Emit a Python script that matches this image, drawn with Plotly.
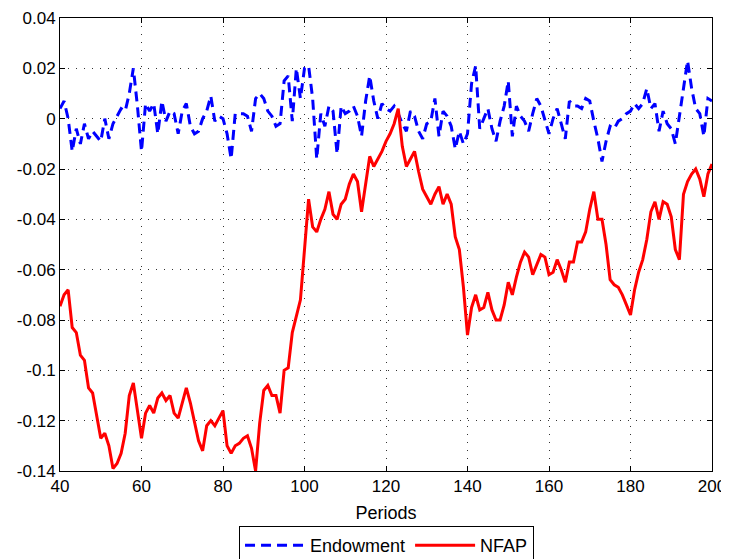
import plotly.graph_objects as go

periods = list(range(40, 201))

nfap = [
    -0.0745, -0.070, -0.068, -0.083, -0.085, -0.094, -0.096, -0.107, -0.109, -0.118,  # 40-49
    -0.127, -0.125, -0.130, -0.139, -0.137, -0.133, -0.125, -0.110, -0.105, -0.116,  # 50-59
    -0.127, -0.117, -0.114, -0.117, -0.111, -0.109, -0.112, -0.110, -0.117, -0.119,  # 60-69
    -0.113, -0.107, -0.113, -0.120, -0.128, -0.132, -0.122, -0.120, -0.122, -0.119,  # 70-79
    -0.116, -0.130, -0.133, -0.130, -0.129, -0.127, -0.126, -0.131, -0.140, -0.121,  # 80-89
    -0.108, -0.106, -0.110, -0.110, -0.117, -0.100, -0.099, -0.085, -0.078, -0.072,  # 90-99
    -0.052, -0.032, -0.043, -0.045, -0.040, -0.036, -0.029, -0.038, -0.040, -0.034,  # 100-109
    -0.032, -0.026, -0.022, -0.025, -0.037, -0.025, -0.015, -0.019, -0.016, -0.013,  # 110-119
    -0.009, -0.006, -0.002, 0.004, -0.011, -0.019, -0.016, -0.013, -0.021, -0.028,   # 120-129
    -0.031, -0.034, -0.030, -0.027, -0.034, -0.030, -0.034, -0.047, -0.052, -0.067,  # 130-139
    -0.086, -0.075, -0.070, -0.076, -0.075, -0.069, -0.076, -0.080, -0.080, -0.074,  # 140-149
    -0.065, -0.070, -0.063, -0.057, -0.053, -0.055, -0.062, -0.058, -0.054, -0.055,  # 150-159
    -0.062, -0.061, -0.056, -0.060, -0.065, -0.057, -0.057, -0.049, -0.049, -0.045,  # 160-169
    -0.036, -0.029, -0.040, -0.040, -0.050, -0.064, -0.066, -0.067, -0.070, -0.074,  # 170-179
    -0.078, -0.068, -0.061, -0.056, -0.048, -0.037, -0.033, -0.040, -0.033, -0.034,  # 180-189
    -0.039, -0.052, -0.056, -0.030, -0.025, -0.022, -0.020, -0.024, -0.031, -0.022,  # 190-199
    -0.018,                                                                          # 200
]

endowment = [
    0.004, 0.007, 0.000, -0.013, -0.004, -0.010, -0.002, -0.008, -0.005, -0.007,   # 40-49
    -0.009, 0.000, -0.008, -0.002, 0.001, 0.004, 0.003, 0.010, 0.020, 0.005,       # 50-59
    -0.013, 0.006, 0.003, 0.006, -0.006, 0.007, -0.001, 0.003, 0.002, -0.006,      # 60-69
    0.003, 0.006, -0.003, -0.006, -0.005, 0.000, 0.003, 0.009, -0.001, 0.001,      # 70-79
    0.000, -0.006, -0.016, 0.002, 0.002, 0.002, 0.001, -0.005, 0.008, 0.010,       # 80-89
    0.008, 0.003, 0.001, -0.003, -0.002, 0.015, 0.017, -0.001, 0.020, 0.008,       # 90-99
    0.020, 0.021, 0.008, -0.016, 0.002, -0.003, 0.005, 0.003, -0.014, 0.005,       # 100-109
    0.002, 0.003, 0.005, 0.001, -0.007, 0.007, 0.017, 0.007, 0.000, 0.006,         # 110-119
    0.004, 0.003, 0.005, 0.002, -0.002, -0.005, 0.003, 0.001, -0.005, -0.008,      # 120-129
    -0.002, -0.001, 0.008, -0.007, 0.003, 0.001, -0.003, -0.012, -0.005, -0.010,   # 130-139
    -0.006, 0.014, 0.021, -0.004, 0.000, 0.004, -0.004, -0.009, -0.001, 0.005,     # 140-149
    0.015, -0.007, 0.005, 0.001, -0.001, -0.005, 0.002, 0.008, 0.005, -0.001,      # 150-159
    -0.006, 0.000, 0.004, -0.002, -0.008, 0.007, 0.005, 0.005, 0.004, 0.008,       # 160-169
    0.007, -0.001, -0.008, -0.017, -0.009, -0.003, -0.004, -0.001, 0.000, 0.002,   # 170-179
    0.003, 0.006, 0.004, 0.006, 0.012, 0.004, 0.006, -0.005, 0.003, -0.002,        # 180-189
    -0.004, -0.010, 0.002, 0.012, 0.023, 0.012, 0.004, 0.002, -0.007, 0.008,       # 190-199
    0.007,                                                                         # 200
]

x_ticks = [40, 60, 80, 100, 120, 140, 160, 180, 200]
x_tick_labels = ["40", "60", "80", "100", "120", "140", "160", "180", "200"]
y_ticks = [0.04, 0.02, 0, -0.02, -0.04, -0.06, -0.08, -0.1, -0.12, -0.14]
y_tick_labels = ["0.04", "0.02", "0", "-0.02", "-0.04", "-0.06", "-0.08", "-0.1", "-0.12", "-0.14"]

fig = go.Figure()
fig.add_trace(go.Scatter(
    x=periods, y=endowment, mode="lines", name="Endowment",
    line=dict(color="#0000ff", width=3, dash="10px,6px"),
))
fig.add_trace(go.Scatter(
    x=periods, y=nfap, mode="lines", name="NFAP",
    line=dict(color="#ff0000", width=3),
))

font_family = "Liberation Sans, Arial, sans-serif"
axis_common = dict(
    showline=True, linecolor="black", linewidth=1, mirror="ticks",
    ticks="inside", ticklen=5, tickcolor="black",
    showgrid=True, gridcolor="#333333", gridwidth=1, griddash="1px,7px",
    zeroline=False, automargin=False,
    tickfont=dict(family=font_family, size=17, color="black"),
)

# The page body has an 8px margin, so the figure is shifted by 8px.
fig.update_layout(
    width=721, height=551,
    margin=dict(l=52, r=17, t=10, b=88),
    paper_bgcolor="white", plot_bgcolor="white",
    showlegend=True,
    legend=dict(
        orientation="h", x=0.5008, xanchor="center",
        yref="container", y=0.0599, yanchor="top",
        bordercolor="black", borderwidth=1, bgcolor="white",
        font=dict(family=font_family, size=18, color="black"),
        itemwidth=60,
    ),
    xaxis=dict(
        range=[40, 200], tickvals=x_ticks, ticktext=x_tick_labels,
        title=dict(text="Periods", standoff=10,
                   font=dict(family=font_family, size=18, color="black")),
        **axis_common,
    ),
    yaxis=dict(
        range=[-0.14, 0.04], tickvals=y_ticks, ticktext=y_tick_labels,
        **axis_common,
    ),
)

fig.write_html("out.html")
